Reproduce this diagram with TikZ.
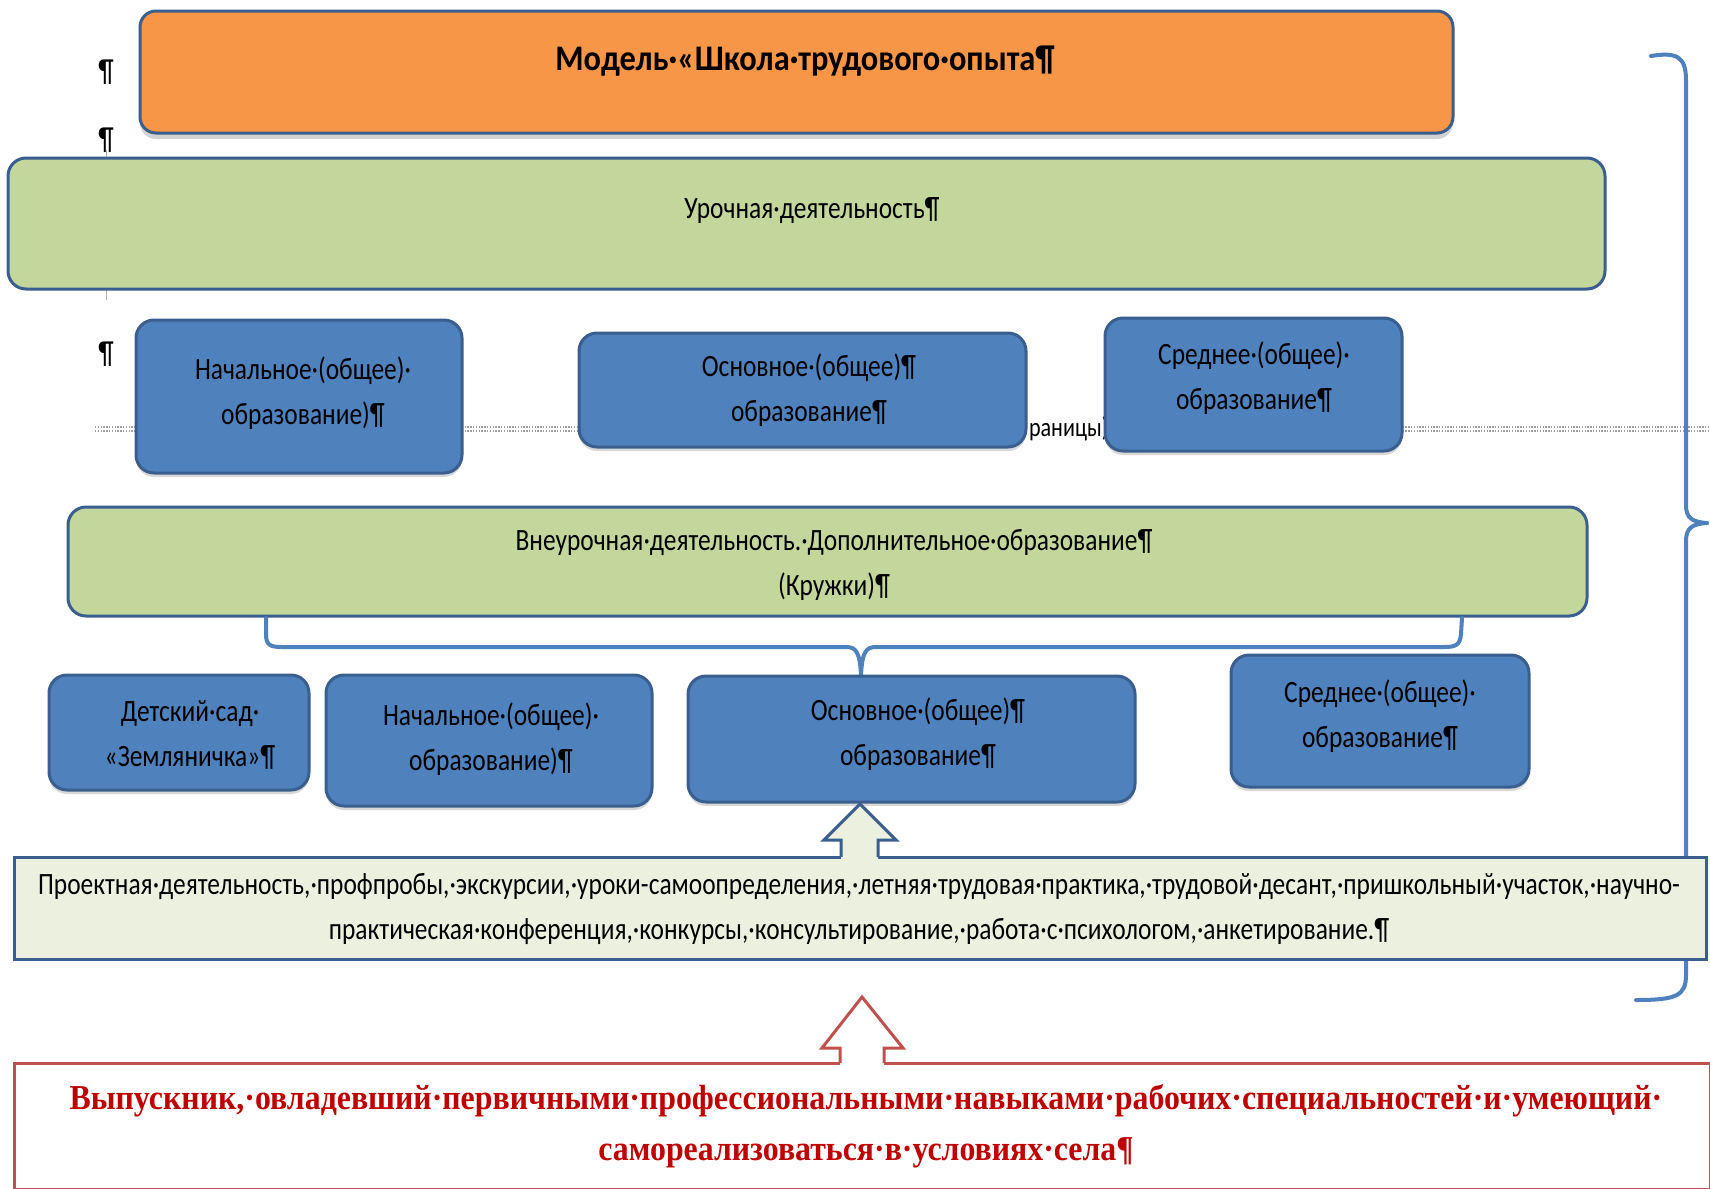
\documentclass[tikz,border=0pt]{standalone}
\usepackage{fontspec}
\setmainfont{Carlito}[FakeStretch=0.82]
\newfontfamily\titlefont{Carlito}[FakeStretch=0.9]
\newfontfamily\serifbold{Liberation Serif}[FakeStretch=0.91]
\usetikzlibrary{fit,shadows}
\definecolor{borderblue}{HTML}{3A5F8F}
\definecolor{boxblue}{HTML}{4F81BD}
\definecolor{orangefill}{HTML}{F79646}
\definecolor{greenfill}{HTML}{C3D69B}
\definecolor{palegreen}{HTML}{EBF1DE}
\definecolor{redline}{HTML}{C0504D}
\definecolor{redtext}{HTML}{C00000}
\definecolor{bracecol}{HTML}{4F81BD}
\begin{document}
\begin{tikzpicture}[x=0.5pt,y=-0.5pt,
  every node/.style={inner sep=0pt, outer sep=0pt},
  basebox/.style={draw=borderblue, line width=1.5pt, rounded corners=9pt},
  titlebox/.style={basebox, fill=orangefill, rounded corners=8pt,
    drop shadow={shadow xshift=0pt, shadow yshift=-3pt, opacity=0.35}},
  greenbox/.style={basebox, fill=greenfill},
  bluebox/.style={basebox, fill=boxblue,
    drop shadow={shadow xshift=0pt, shadow yshift=-2pt, opacity=0.3}},
  actbox/.style={draw=borderblue, line width=1.5pt, fill=palegreen},
  resbox/.style={draw=redline, line width=1.5pt, fill=white},
  boxtext/.style={align=center, font=\fontsize{15.5}{22.2}\selectfont},
  acttext/.style={align=center, font=\fontsize{15.5}{22.4}\selectfont},
  restext/.style={align=center, text=redtext,
    font=\serifbold\bfseries\fontsize{17.5}{25.6}\selectfont},
  titletext/.style={font=\titlefont\bfseries\fontsize{18}{20}\selectfont},
  markstyle/.style={font=\fontsize{16}{16}\selectfont},
  bracestyle/.style={draw=bracecol, line width=2pt, line cap=round},
  breakline/.style={draw=gray!75, line width=0.7pt, dash pattern=on 0.7pt off 0.7pt}
]
\useasboundingbox (0,0) rectangle (1710,1189);
\fill[white] (0,0) rectangle (1710,1189);

% Word formatting marks
\draw[gray!60, line width=0.5pt] (106,150) -- (106,300);
\node[markstyle] (p1) at (106,72) {¶};
\node[markstyle] (p2) at (106,140) {¶};
\node[markstyle] (p3) at (106,354) {¶};

% section break line
\draw[breakline] (95,427) -- (1710,427);
\draw[breakline] (95,431) -- (1710,431);
\node[fill=white, anchor=west, font=\fontsize{13.5}{13.5}\selectfont, inner sep=1pt] (brk) at (1027,429) {раницы).};

% right brace
\draw[bracestyle] (1651,56) .. controls (1676,52) and (1686,56) .. (1686,80)
  -- (1686,505) .. controls (1686,518) and (1692,522) .. (1707,523);
\draw[bracestyle] (1707,523) .. controls (1692,524) and (1686,528) .. (1686,541)
  -- (1686,975) .. controls (1686,996) and (1676,1000) .. (1636,1000);

% title
\node[titlebox, fit={(140,11) (1453,133)}] (title) {};
\node[titletext] (titletxt) at (805,61) {Модель·«Школа·трудового·опыта¶};

% lesson activity
\node[greenbox, fit={(8,158) (1605,289)}] (lesson) {};
\node[boxtext] (lessontxt) at (812,211) {Урочная·деятельность¶};

% first row of levels
\node[bluebox, fit={(136,320) (462,473)}] (b1) {};
\node[boxtext] (b1t) at (303,393) {Начальное·(общее)·\\образование)¶};
\node[bluebox, fit={(579,333) (1026,447)}] (b2) {};
\node[boxtext] (b2t) at (809,390) {Основное·(общее)¶\\образование¶};
\node[bluebox, fit={(1105,318) (1402,451)}] (b3) {};
\node[boxtext] (b3t) at (1254,378) {Среднее·(общее)·\\образование¶};

% extracurricular
\node[greenbox, fit={(68,507) (1587,616)}] (extra) {};
\node[boxtext] (extrat) at (834,565) {Внеурочная·деятельность.·Дополнительное·образование¶\\(Кружки)¶};

% brace under extracurricular
\coordinate (bl) at (266,618);
\coordinate (br) at (1462,618);
\coordinate (bm) at (861,676);
\draw[bracestyle] (bl) -- (266,634) .. controls (266,645) and (270,647) .. (282,647)
  -- (846,647) .. controls (856,647) and (860,652) .. (bm);
\draw[bracestyle] (br) -- (1461,634) .. controls (1460,645) and (1456,647) .. (1444,647)
  -- (876,647) .. controls (866,647) and (862,652) .. (bm);

% second row of levels
\node[bluebox, fit={(49,675) (309,790)}] (c1) {};
\node[boxtext] (c1t) at (190,735) {Детский·сад·\\«Земляничка»¶};
\node[bluebox, fit={(326,675) (652,806)}] (c2) {};
\node[boxtext] (c2t) at (491,739) {Начальное·(общее)·\\образование)¶};
\node[bluebox, fit={(688,676) (1135,802)}] (c3) {};
\node[boxtext] (c3t) at (918,734) {Основное·(общее)¶\\образование¶};
\node[bluebox, fit={(1231,655) (1529,787)}] (c4) {};
\node[boxtext] (c4t) at (1380,716) {Среднее·(общее)·\\образование¶};

% activities box
\node[actbox, fit={(14,857) (1706,959)}] (acts) {};
\node[acttext] (actst) at (859,909) {Проектная·деятельность,·профпробы,·экскурсии,·уроки-самоопределения,·летняя·трудовая·практика,·трудовой·десант,·пришкольный·участок,·научно-\\практическая·конференция,·конкурсы,·консультирование,·работа·с·психологом,·анкетирование.¶};

% block arrow from activities up to c3
\fill[palegreen] (860,804) -- (896,840) -- (878,840) -- (878,859.5) -- (841,859.5) -- (841,840) -- (824,840) -- cycle;
\draw[borderblue, line width=1.5pt, line join=miter] (841,857) -- (841,840) -- (824,840) -- (860,804) -- (896,840) -- (878,840) -- (878,857);

% result box
\node[resbox, fit={(14,1063) (1710,1189)}] (result) {};
\node[restext] (resultt) at (866,1126) {Выпускник,·овладевший·первичными·профессиональными·навыками·рабочих·специальностей·и·умеющий·\\самореализоваться·в·условиях·села¶};

% block arrow from result up to activities
\fill[white] (862,997) -- (903,1048) -- (884,1048) -- (884,1065.5) -- (840,1065.5) -- (840,1048) -- (822,1048) -- cycle;
\draw[redline, line width=1.5pt, line join=miter] (840,1063) -- (840,1048) -- (822,1048) -- (862,997) -- (903,1048) -- (884,1048) -- (884,1063);
\end{tikzpicture}
\end{document}
